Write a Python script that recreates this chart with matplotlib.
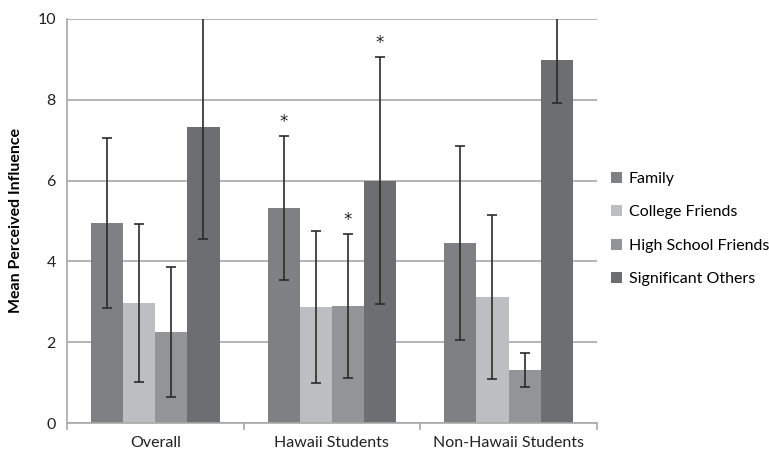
import numpy as np
from matplotlib import pyplot as plt

groups = ["Overall", "Hawaii Students", "Non-Hawaii Students"]
series = ["Family", "College Friends", "High School Friends", "Significant Others"]
colors = ["#7f8083", "#bdbec1", "#939497", "#6d6e71"]

family = [4.95, 5.32, 4.46]
college = [2.97, 2.87, 3.12]
highschool = [2.25, 2.90, 1.31]
significant = [7.33, 6.00, 8.99]

family_err = [2.10, 1.78, 2.40]
college_err = [1.96, 1.89, 2.03]
highschool_err = [1.60, 1.79, 0.43]
significant_err = [2.78, 3.06, 1.07]

# asterisks (series index, group index)
stars = [(0, 1), (2, 1), (3, 1)]

values = [family, college, highschool, significant]
errors = [family_err, college_err, highschool_err, significant_err]

plt.rcParams['font.family'] = ['Lato', 'DejaVu Sans']

fig = plt.figure(figsize=(7.69, 4.51), dpi=100)
ax = fig.add_axes([0.0871, 0.062, 0.689, 0.896])

x = np.arange(len(groups))
w = 1 / 5.5
for i, (vals, errs) in enumerate(zip(values, errors)):
    pos = x + (i - 1.5) * w
    ax.bar(pos, vals, w, color=colors[i], label=series[i], zorder=2)
    ax.errorbar(pos, vals, yerr=errs, fmt='none', ecolor='#2b2b2b',
                elinewidth=1.2, capsize=3.5, capthick=1.2, zorder=3)

for i, g in stars:
    top = values[i][g] + errors[i][g]
    ax.text(x[g] + (i - 1.5) * w, top + 0.12, "*", ha='center', va='bottom',
            fontsize=12, family='DejaVu Sans', color='#222222')

ax.set_ylim(0, 10)
ax.set_xlim(-0.5, len(groups) - 0.5)
ax.set_yticks(range(0, 11, 2))
ax.tick_params(axis='y', length=0, labelsize=11.5, colors='#222222', pad=8)
ax.yaxis.grid(True, color='#a8a8a8', linewidth=1.2, zorder=0)
ax.set_axisbelow(True)

ax.set_xticks(np.arange(-0.5, len(groups)), minor=False)
ax.set_xticklabels([])
ax.set_xticks(x, minor=True)
ax.set_xticklabels(groups, minor=True)
ax.tick_params(axis='x', which='major', length=5, color='#a8a8a8', width=1.2)
ax.tick_params(axis='x', which='minor', length=0, labelsize=11.5, colors='#222222', pad=9)

for s in ['top', 'right']:
    ax.spines[s].set_visible(False)
for s in ['left', 'bottom']:
    ax.spines[s].set_color('#a8a8a8')
    ax.spines[s].set_linewidth(1.2)

ax.set_ylabel("Mean Perceived Influence", fontsize=11.5, fontweight='bold', labelpad=10)

ax.legend(loc='center left', bbox_to_anchor=(1.0, 0.48), frameon=False,
          fontsize=11.5, handlelength=0.7, handleheight=0.7, handletextpad=0.4,
          labelspacing=1.2)

fig.savefig("out.png", dpi=100)
